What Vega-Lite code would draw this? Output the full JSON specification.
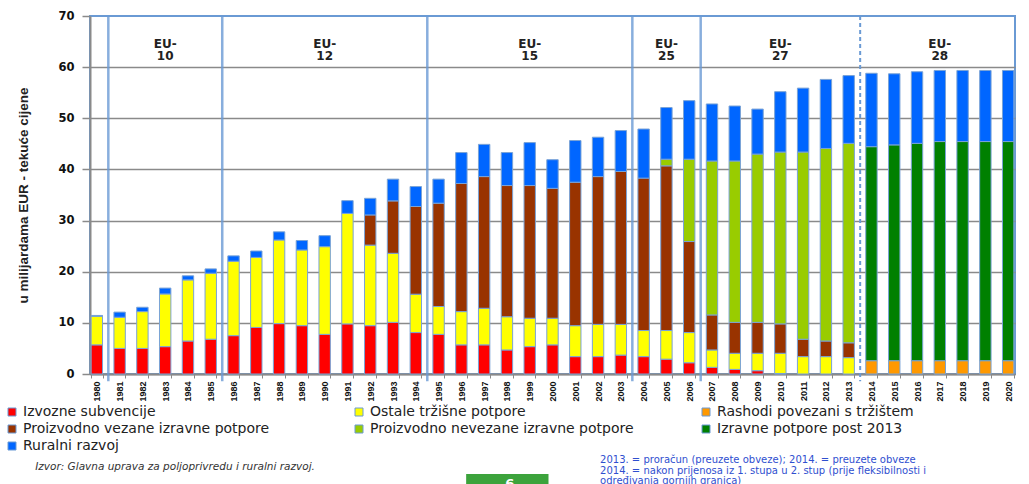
{
  "$schema": "https://vega.github.io/schema/vega-lite/v6.json",
  "width": 925,
  "height": 358,
  "autosize": "none",
  "padding": {"left": 90, "top": 16, "right": 14, "bottom": 110},
  "background": "white",
  "config": {
    "view": {"stroke": "#6a9ad4", "strokeWidth": 2},
    "legend": {
      "orient": "none", "legendX": -85, "legendY": 389, "direction": "horizontal",
      "columns": 3, "gridAlign": "all", "columnPadding": 65, "rowPadding": 3, "padding": 0,
      "symbolType": "square", "symbolSize": 64, "symbolStrokeColor": "#6a9ad4", "symbolStrokeWidth": 1,
      "symbolOpacity": 1, "labelFont": "DejaVu Sans", "labelFontSize": 14, "labelColor": "#222", "labelLimit": 0, "labelOffset": 4
    }
  },
  "datasets": {
    "kategorije": [
      {"kategorija": "Izvozne subvencije", "redoslijed": 1},
      {"kategorija": "Ostale tržišne potpore", "redoslijed": 2},
      {"kategorija": "Rashodi povezani s tržištem", "redoslijed": 3},
      {"kategorija": "Proizvodno vezane izravne potpore", "redoslijed": 4},
      {"kategorija": "Proizvodno nevezane izravne potpore", "redoslijed": 5},
      {"kategorija": "Izravne potpore post 2013", "redoslijed": 6},
      {"kategorija": "Ruralni razvoj", "redoslijed": 7}
    ],
    "rashodi": [
      {"godina": 1980, "Izvozne subvencije": 5.7, "Ostale tržišne potpore": 5.6, "Ruralni razvoj": 0.15},
      {"godina": 1981, "Izvozne subvencije": 5.0, "Ostale tržišne potpore": 6.1, "Ruralni razvoj": 1.0},
      {"godina": 1982, "Izvozne subvencije": 5.0, "Ostale tržišne potpore": 7.2, "Ruralni razvoj": 0.85},
      {"godina": 1983, "Izvozne subvencije": 5.35, "Ostale tržišne potpore": 10.3, "Ruralni razvoj": 1.15},
      {"godina": 1984, "Izvozne subvencije": 6.45, "Ostale tržišne potpore": 11.95, "Ruralni razvoj": 0.8},
      {"godina": 1985, "Izvozne subvencije": 6.8, "Ostale tržišne potpore": 12.9, "Ruralni razvoj": 0.85},
      {"godina": 1986, "Izvozne subvencije": 7.5, "Ostale tržišne potpore": 14.55, "Ruralni razvoj": 1.05},
      {"godina": 1987, "Izvozne subvencije": 9.1, "Ostale tržišne potpore": 13.7, "Ruralni razvoj": 1.25},
      {"godina": 1988, "Izvozne subvencije": 9.85, "Ostale tržišne potpore": 16.35, "Ruralni razvoj": 1.6},
      {"godina": 1989, "Izvozne subvencije": 9.45, "Ostale tržišne potpore": 14.8, "Ruralni razvoj": 1.85},
      {"godina": 1990, "Izvozne subvencije": 7.75, "Ostale tržišne potpore": 17.15, "Ruralni razvoj": 2.15},
      {"godina": 1991, "Izvozne subvencije": 9.8, "Ostale tržišne potpore": 21.6, "Ruralni razvoj": 2.5},
      {"godina": 1992, "Izvozne subvencije": 9.45, "Ostale tržišne potpore": 15.75, "Proizvodno vezane izravne potpore": 5.9, "Ruralni razvoj": 3.25},
      {"godina": 1993, "Izvozne subvencije": 10.1, "Ostale tržišne potpore": 13.5, "Proizvodno vezane izravne potpore": 10.25, "Ruralni razvoj": 4.25},
      {"godina": 1994, "Izvozne subvencije": 8.1, "Ostale tržišne potpore": 7.5, "Proizvodno vezane izravne potpore": 17.15, "Ruralni razvoj": 3.9},
      {"godina": 1995, "Izvozne subvencije": 7.75, "Ostale tržišne potpore": 5.45, "Proizvodno vezane izravne potpore": 20.2, "Ruralni razvoj": 4.7},
      {"godina": 1996, "Izvozne subvencije": 5.7, "Ostale tržišne potpore": 6.5, "Proizvodno vezane izravne potpore": 25.05, "Ruralni razvoj": 6.05},
      {"godina": 1997, "Izvozne subvencije": 5.7, "Ostale tržišne potpore": 7.15, "Proizvodno vezane izravne potpore": 25.75, "Ruralni razvoj": 6.3},
      {"godina": 1998, "Izvozne subvencije": 4.7, "Ostale tržišne potpore": 6.5, "Proizvodno vezane izravne potpore": 25.65, "Ruralni razvoj": 6.45},
      {"godina": 1999, "Izvozne subvencije": 5.35, "Ostale tržišne potpore": 5.55, "Proizvodno vezane izravne potpore": 25.95, "Ruralni razvoj": 8.4},
      {"godina": 2000, "Izvozne subvencije": 5.7, "Ostale tržišne potpore": 5.2, "Proizvodno vezane izravne potpore": 25.4, "Ruralni razvoj": 5.6},
      {"godina": 2001, "Izvozne subvencije": 3.4, "Ostale tržišne potpore": 6.05, "Proizvodno vezane izravne potpore": 28.05, "Ruralni razvoj": 8.15},
      {"godina": 2002, "Izvozne subvencije": 3.4, "Ostale tržišne potpore": 6.3, "Proizvodno vezane izravne potpore": 28.9, "Ruralni razvoj": 7.7},
      {"godina": 2003, "Izvozne subvencije": 3.7, "Ostale tržišne potpore": 6.0, "Proizvodno vezane izravne potpore": 29.9, "Ruralni razvoj": 8.0},
      {"godina": 2004, "Izvozne subvencije": 3.4, "Ostale tržišne potpore": 5.1, "Proizvodno vezane izravne potpore": 29.8, "Ruralni razvoj": 9.6},
      {"godina": 2005, "Izvozne subvencije": 2.9, "Ostale tržišne potpore": 5.6, "Proizvodno vezane izravne potpore": 32.2, "Proizvodno nevezane izravne potpore": 1.3, "Ruralni razvoj": 10.1},
      {"godina": 2006, "Izvozne subvencije": 2.2, "Ostale tržišne potpore": 5.9, "Proizvodno vezane izravne potpore": 17.8, "Proizvodno nevezane izravne potpore": 16.1, "Ruralni razvoj": 11.45},
      {"godina": 2007, "Izvozne subvencije": 1.3, "Ostale tržišne potpore": 3.4, "Proizvodno vezane izravne potpore": 6.85, "Proizvodno nevezane izravne potpore": 30.1, "Ruralni razvoj": 11.15},
      {"godina": 2008, "Izvozne subvencije": 0.9, "Ostale tržišne potpore": 3.15, "Proizvodno vezane izravne potpore": 6.05, "Proizvodno nevezane izravne potpore": 31.55, "Ruralni razvoj": 10.75},
      {"godina": 2009, "Izvozne subvencije": 0.65, "Ostale tržišne potpore": 3.4, "Proizvodno vezane izravne potpore": 6.05, "Proizvodno nevezane izravne potpore": 32.9, "Ruralni razvoj": 8.8},
      {"godina": 2010, "Izvozne subvencije": 0.1, "Ostale tržišne potpore": 3.95, "Proizvodno vezane izravne potpore": 5.75, "Proizvodno nevezane izravne potpore": 33.6, "Ruralni razvoj": 11.8},
      {"godina": 2011, "Ostale tržišne potpore": 3.4, "Proizvodno vezane izravne potpore": 3.4, "Proizvodno nevezane izravne potpore": 36.6, "Ruralni razvoj": 12.5},
      {"godina": 2012, "Ostale tržišne potpore": 3.4, "Proizvodno vezane izravne potpore": 3.05, "Proizvodno nevezane izravne potpore": 37.65, "Ruralni razvoj": 13.5},
      {"godina": 2013, "Ostale tržišne potpore": 3.2, "Proizvodno vezane izravne potpore": 2.9, "Proizvodno nevezane izravne potpore": 39.0, "Ruralni razvoj": 13.25},
      {"godina": 2014, "Rashodi povezani s tržištem": 2.6, "Izravne potpore post 2013": 41.85, "Ruralni razvoj": 14.35},
      {"godina": 2015, "Rashodi povezani s tržištem": 2.6, "Izravne potpore post 2013": 42.2, "Ruralni razvoj": 13.9},
      {"godina": 2016, "Rashodi povezani s tržištem": 2.6, "Izravne potpore post 2013": 42.5, "Ruralni razvoj": 14.0},
      {"godina": 2017, "Rashodi povezani s tržištem": 2.6, "Izravne potpore post 2013": 42.85, "Ruralni razvoj": 13.9},
      {"godina": 2018, "Rashodi povezani s tržištem": 2.6, "Izravne potpore post 2013": 42.85, "Ruralni razvoj": 13.9},
      {"godina": 2019, "Rashodi povezani s tržištem": 2.6, "Izravne potpore post 2013": 42.85, "Ruralni razvoj": 13.9},
      {"godina": 2020, "Rashodi povezani s tržištem": 2.6, "Izravne potpore post 2013": 42.85, "Ruralni razvoj": 13.9}
    ],
    "granice": [
      {"godina": 1981}, {"godina": 1986}, {"godina": 1995}, {"godina": 2004}, {"godina": 2007}
    ],
    "eu": [
      {"godina": 1983, "oznaka": "EU-\n10"},
      {"godina": 1990, "oznaka": "EU-\n12"},
      {"godina": 1999, "oznaka": "EU-\n15"},
      {"godina": 2005, "oznaka": "EU-\n25"},
      {"godina": 2010, "oznaka": "EU-\n27"},
      {"godina": 2017, "oznaka": "EU-\n28"}
    ]
  },
  "layer": [
    {
      "data": {"name": "rashodi"},
      "transform": [
        {"fold": ["Izvozne subvencije", "Ostale tržišne potpore", "Rashodi povezani s tržištem", "Proizvodno vezane izravne potpore", "Proizvodno nevezane izravne potpore", "Izravne potpore post 2013", "Ruralni razvoj"], "as": ["kategorija", "vrijednost"]},
        {"filter": {"field": "vrijednost", "valid": true}},
        {"lookup": "kategorija", "from": {"data": {"name": "kategorije"}, "key": "kategorija", "fields": ["redoslijed"]}}
      ],
      "mark": {"type": "bar", "stroke": "#7aa3d6", "strokeWidth": 1},
      "encoding": {
        "x": {
          "field": "godina", "type": "ordinal",
          "scale": {"paddingInner": 0.5, "paddingOuter": 0.05},
          "axis": {
            "title": null, "labelAngle": 270, "labelFont": "Liberation Sans", "labelFontWeight": "bold",
            "labelFontSize": 9, "labelColor": "#111", "labelPadding": 3,
            "domainColor": "#8a8a8a", "domainWidth": 2, "tickColor": "#8a8a8a", "tickSize": 4,
            "tickBand": "extent", "grid": false
          }
        },
        "y": {
          "field": "vrijednost", "type": "quantitative", "stack": "zero",
          "scale": {"domain": [0, 70], "nice": false},
          "axis": {
            "title": "u milijardama EUR - tekuće cijene", "titleFont": "Liberation Sans", "titleFontWeight": "bold",
            "titleFontSize": 13.5, "titleColor": "#222", "titlePadding": 27,
            "values": [0, 10, 20, 30, 40, 50, 60, 70],
            "labelFont": "DejaVu Sans", "labelFontWeight": "bold", "labelFontSize": 11.5, "labelColor": "#111",
            "labelPadding": 8, "tickSize": 8, "tickColor": "#8a8a8a", "tickWidth": 1.5,
            "domainColor": "#8a8a8a", "domainWidth": 2,
            "gridColor": {"condition": {"test": "datum.value === 70", "value": "transparent"}, "value": "#8a8a8a"},
            "gridWidth": 1.5
          }
        },
        "order": {"field": "redoslijed", "type": "quantitative", "sort": "ascending"},
        "color": {
          "field": "kategorija", "type": "nominal",
          "scale": {
            "domain": ["Izvozne subvencije", "Ostale tržišne potpore", "Rashodi povezani s tržištem", "Proizvodno vezane izravne potpore", "Proizvodno nevezane izravne potpore", "Izravne potpore post 2013", "Ruralni razvoj"],
            "range": ["#ff0000", "#ffff00", "#ff9900", "#993300", "#99cc00", "#008000", "#0066ff"]
          },
          "legend": {"title": null}
        }
      }
    },
    {
      "data": {"name": "granice"},
      "mark": {"type": "rule", "stroke": "#6a9ad4", "strokeWidth": 2.5, "opacity": 0.8, "xOffset": -5.6},
      "encoding": {
        "x": {"field": "godina", "type": "ordinal", "bandPosition": 0},
        "y": {"datum": 70},
        "y2": {"datum": -1.4}
      }
    },
    {
      "data": {"values": [{"godina": 2014}]},
      "mark": {"type": "rule", "stroke": "#6a9ad4", "strokeWidth": 2, "strokeDash": [4, 3], "xOffset": -5.6},
      "encoding": {
        "x": {"field": "godina", "type": "ordinal", "bandPosition": 0},
        "y": {"datum": 70},
        "y2": {"datum": -1.4}
      }
    },
    {
      "data": {"name": "eu"},
      "mark": {"type": "text", "font": "DejaVu Sans", "fontWeight": "bold", "fontSize": 12, "lineBreak": "\n", "lineHeight": 12.5, "baseline": "middle", "align": "center", "color": "#222"},
      "encoding": {
        "x": {"field": "godina", "type": "ordinal"},
        "y": {"datum": 64.6},
        "text": {"field": "oznaka"}
      }
    },
    {
      "data": {"values": [{"tekst": "Izvor: Glavna uprava za poljoprivredu i ruralni razvoj."}]},
      "mark": {"type": "text", "font": "DejaVu Sans", "fontStyle": "italic", "fontSize": 10.5, "align": "left", "baseline": "middle", "color": "#333", "dx": -56},
      "encoding": {
        "x": {"datum": 1980, "type": "ordinal", "bandPosition": 0},
        "y": {"datum": -18.2},
        "text": {"field": "tekst"}
      }
    },
    {
      "data": {"values": [{"tekst": "2013. = proračun (preuzete obveze); 2014. = preuzete obveze\n2014. = nakon prijenosa iz 1. stupa u 2. stup (prije fleksibilnosti i\nodređivanja gornjih granica)"}]},
      "mark": {"type": "text", "font": "DejaVu Sans", "fontSize": 10, "lineBreak": "\n", "lineHeight": 10.5, "align": "left", "baseline": "top", "color": "#2f4fcf", "dx": 2},
      "encoding": {
        "x": {"datum": 2002, "type": "ordinal"},
        "y": {"datum": -15.9},
        "text": {"field": "tekst"}
      }
    },
    {
      "data": {"values": [{"od": 1997, "do": 2000}]},
      "mark": {"type": "rect", "color": "#3ca33c", "xOffset": -18, "x2Offset": -4},
      "encoding": {
        "x": {"field": "od", "type": "ordinal"},
        "x2": {"field": "do"},
        "y": {"datum": -19.55},
        "y2": {"datum": -23}
      }
    },
    {
      "data": {"values": [{"tekst": "6"}]},
      "mark": {"type": "text", "font": "DejaVu Sans", "fontWeight": "bold", "fontSize": 13, "align": "center", "baseline": "top", "color": "white"},
      "encoding": {
        "x": {"datum": 1998, "type": "ordinal", "bandPosition": 0.75},
        "y": {"datum": -20.4},
        "text": {"field": "tekst"}
      }
    }
  ]
}
